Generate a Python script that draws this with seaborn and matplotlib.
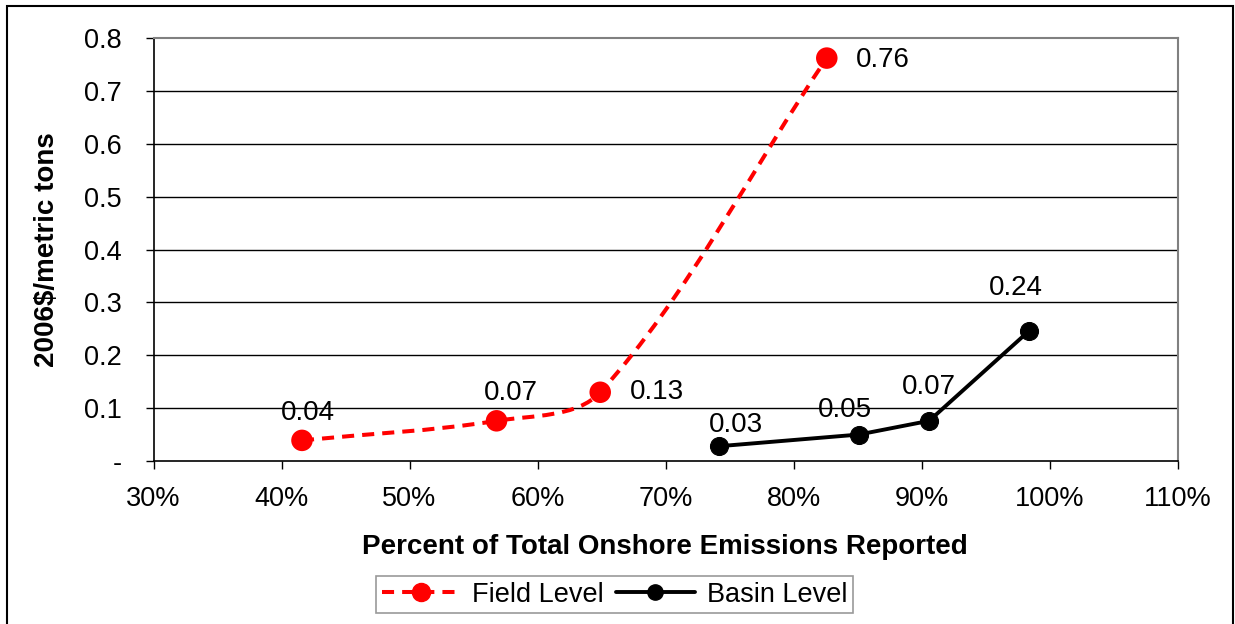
import numpy as np
import pandas as pd
import matplotlib
matplotlib.use("Agg")
import matplotlib.pyplot as plt
from matplotlib.path import Path
from matplotlib.patches import PathPatch, Rectangle
from matplotlib.lines import Line2D
import matplotlib.ticker as mticker
import seaborn as sns

# ---- data ----
field_x = [41.6, 56.8, 64.9, 82.6]
field_y = [0.039, 0.076, 0.130, 0.762]
field_labels = ["0.04", "0.07", "0.13", "0.76"]

basin_x = [74.2, 85.1, 90.6, 98.4]
basin_y = [0.028, 0.050, 0.076, 0.246]
basin_labels = ["0.03", "0.05", "0.07", "0.24"]

x_ticks = [30, 40, 50, 60, 70, 80, 90, 100, 110]
y_ticks = [0.0, 0.1, 0.2, 0.3, 0.4, 0.5, 0.6, 0.7, 0.8]
y_tick_labels = ["-", "0.1", "0.2", "0.3", "0.4", "0.5", "0.6", "0.7", "0.8"]

sns.set_theme(style="white")
plt.rcParams["font.family"] = ["Liberation Sans", "DejaVu Sans"]
plt.rcParams["text.color"] = "black"
plt.rcParams["xtick.color"] = "black"
plt.rcParams["ytick.color"] = "black"
plt.rcParams["axes.labelcolor"] = "black"

FS = 19.5
FS_LAB = 20
DASH = (0, (3.0, 2.0))
fig = plt.figure(figsize=(12.35, 6.24), dpi=100)
ax = fig.add_axes([153.5 / 1235, 1 - 461 / 624, (1177.5 - 153.5) / 1235, (461 - 38) / 624])
ax.set_xlim(30, 110)
ax.set_ylim(0, 0.8)

# grid lines
for yv in y_ticks[1:-1]:
    ax.axhline(yv, color="black", lw=1.0, zorder=0)

# Field level: smoothed dashed curve through the data points (length-weighted Bezier in display space)
pts = ax.transData.transform(np.column_stack([field_x, field_y]))
n = len(pts)
def dist(a, b):
    return float(np.hypot(*(b - a)))
verts = [pts[0]]
codes = [Path.MOVETO]
for i in range(n - 1):
    p0 = pts[i - 1] if i > 0 else pts[i]
    p1 = pts[i]
    p2 = pts[i + 1]
    p3 = pts[i + 2] if i + 2 < n else pts[i + 1]
    d01, d12, d23 = dist(p0, p1), dist(p1, p2), dist(p2, p3)
    c1 = p1 + (p2 - p0) * d12 / (3 * (d01 + d12))
    c2 = p2 - (p3 - p1) * d12 / (3 * (d12 + d23))
    verts += [c1, c2, p2]
    codes += [Path.CURVE4] * 3
verts_data = ax.transData.inverted().transform(np.array(verts))
ax.add_patch(PathPatch(Path(verts_data, codes), facecolor="none", edgecolor="#ff0000",
                       lw=2.9, linestyle=DASH, capstyle="butt", zorder=2))

df_field = pd.DataFrame({"x": field_x, "y": field_y})
df_basin = pd.DataFrame({"x": basin_x, "y": basin_y})

sns.scatterplot(data=df_field, x="x", y="y", ax=ax, color="#ff0000", s=240,
                edgecolor="none", zorder=3, legend=False)
sns.lineplot(data=df_basin, x="x", y="y", ax=ax, color="black", lw=2.8,
             marker="o", markersize=13, markeredgecolor="black", zorder=3,
             legend=False, sort=False)

# data labels
field_off = [(4.3, 20), (10, 20), (21.6, 0), (21, -1.5)]
field_ha = ["center", "center", "left", "left"]
for x, y, t, o, h in zip(field_x, field_y, field_labels, field_off, field_ha):
    ax.annotate(t, (x, y), xytext=o, textcoords="offset points", ha=h, va="center",
                fontsize=FS_LAB, color="black")
basin_off = [(11.8, 15.1), (-10.3, 17.5), (0, 24.3), (-9.4, 31.2)]
for x, y, t, o in zip(basin_x, basin_y, basin_labels, basin_off):
    ax.annotate(t, (x, y), xytext=o, textcoords="offset points", ha="center", va="center",
                fontsize=FS_LAB, color="black")

ax.set_xticks(x_ticks)
ax.xaxis.set_major_formatter(mticker.FuncFormatter(lambda v, p: f"{int(round(v))}%"))
ax.set_yticks(y_ticks)
ax.set_yticklabels(y_tick_labels)
ax.tick_params(axis="x", direction="out", length=6, width=1, color="black",
               labelcolor="black", labelsize=FS, pad=12, bottom=True)
ax.tick_params(axis="y", direction="out", length=6, width=1, color="black",
               labelcolor="black", labelsize=FS, pad=17, left=True)

for s in ["left", "bottom"]:
    ax.spines[s].set_color("black")
    ax.spines[s].set_linewidth(1.2)
for s in ["top", "right"]:
    ax.spines[s].set_color("#808080")
    ax.spines[s].set_linewidth(1.5)

ax.set_xlabel("")
ax.set_ylabel("")
fig.text(665 / 1235, 1 - 547 / 624, "Percent of Total Onshore Emissions Reported",
         ha="center", va="center", fontsize=FS_LAB, fontweight="bold", color="black")
fig.text(47 / 1235, 1 - 250 / 624, "2006$/metric tons", rotation=90,
         ha="center", va="center", fontsize=FS_LAB, fontweight="bold", color="black")

handles = [
    Line2D([], [], color="#ff0000", lw=2.9, linestyle=DASH, marker="o",
           markersize=13, markeredgecolor="#ff0000"),
    Line2D([], [], color="black", lw=2.8, marker="o", markersize=11,
           markeredgecolor="black"),
]
leg = fig.legend(handles, ["Field Level", "Basin Level"], loc="center",
                 bbox_to_anchor=(614.5 / 1235, 1 - 594.5 / 624), ncol=2,
                 fontsize=FS, frameon=True, fancybox=False, handlelength=2.9,
                 handletextpad=0.45, columnspacing=0.45, borderpad=0.2)
leg.get_frame().set_edgecolor("#808080")
leg.get_frame().set_linewidth(1.2)
for t in leg.get_texts():
    t.set_color("black")

fig.patches.append(Rectangle((7 / 1235, -0.05), (1233 - 7) / 1235, 1 - 6 / 624 + 0.05,
                             transform=fig.transFigure, fill=False, edgecolor="black",
                             lw=1.5))

fig.savefig("out.png", dpi=100)
